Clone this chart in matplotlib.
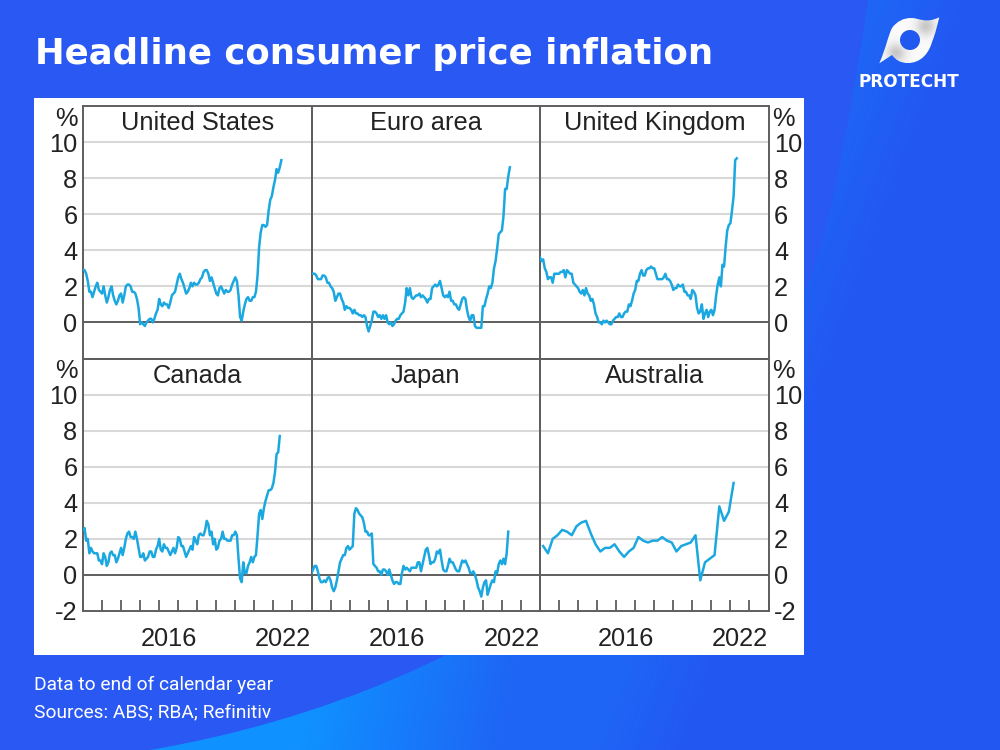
#!/usr/bin/env python3
import numpy as np
import matplotlib
matplotlib.use('Agg')
import matplotlib.pyplot as plt
from matplotlib.path import Path
from matplotlib.patches import PathPatch, Rectangle, Circle

# Monthly series from Jan 2012, one row per year
us = [2.9, 2.9, 2.7, 2.3, 1.7, 1.7, 1.4, 1.7, 2.0, 2.2, 1.8, 1.7,
      1.6, 2.0, 1.5, 1.1, 1.4, 1.8, 2.0, 1.5, 1.2, 1.0, 1.2, 1.5,
      1.6, 1.1, 1.5, 2.0, 2.1, 2.1, 2.0, 1.7, 1.7, 1.6, 1.3, 0.8,
      -0.1, 0.0, -0.1, -0.2, 0.0, 0.1, 0.2, 0.2, 0.0, 0.2, 0.5, 0.7,
      1.3, 1.0, 0.9, 1.1, 1.0, 1.0, 0.8, 1.1, 1.5, 1.6, 1.7, 2.1,
      2.5, 2.7, 2.4, 2.2, 1.9, 1.6, 1.7, 1.9, 2.2, 2.0, 2.2, 2.1,
      2.1, 2.2, 2.4, 2.5, 2.8, 2.9, 2.9, 2.7, 2.3, 2.5, 2.2, 1.9,
      1.6, 1.5, 1.9, 2.0, 1.8, 1.6, 1.8, 1.7, 1.7, 1.8, 2.1, 2.3,
      2.5, 2.3, 1.5, 0.3, 0.1, 0.6, 1.0, 1.3, 1.4, 1.2, 1.2, 1.4,
      1.4, 1.7, 2.6, 4.2, 5.0, 5.4, 5.4, 5.3, 5.4, 6.2, 6.8, 7.0,
      7.5, 7.9, 8.5, 8.3, 8.6, 9.0]
euro = [2.7, 2.7, 2.7, 2.6, 2.4, 2.4, 2.4, 2.6, 2.6, 2.5, 2.2, 2.2,
        2.0, 1.9, 1.7, 1.2, 1.4, 1.6, 1.6, 1.3, 1.1, 0.7, 0.9, 0.8,
        0.8, 0.7, 0.5, 0.7, 0.5, 0.5, 0.4, 0.4, 0.3, 0.4, 0.3, -0.2,
        -0.5, -0.2, 0.1, 0.6, 0.6, 0.5, 0.3, 0.4, 0.2, 0.4, 0.2, 0.4,
        0.0, -0.1, 0.0, -0.2, -0.1, 0.1, 0.2, 0.2, 0.4, 0.5, 0.6, 1.1,
        1.9, 1.5, 1.9, 1.4, 1.3, 1.4, 1.5, 1.5, 1.6, 1.4, 1.5, 1.4,
        1.3, 1.1, 1.3, 1.3, 1.9, 2.0, 2.1, 2.0, 2.1, 2.3, 1.9, 1.5,
        1.4, 1.5, 1.4, 1.7, 1.2, 1.2, 1.0, 1.0, 0.8, 0.7, 1.0, 1.3,
        1.4, 1.3, 0.7, 0.3, 0.1, 0.4, 0.4, -0.2, -0.3, -0.3, -0.3, -0.3,
        0.9, 0.9, 1.3, 1.6, 2.0, 1.9, 2.2, 3.0, 3.4, 4.1, 4.9, 5.0,
        5.1, 5.9, 7.4, 7.4, 8.1, 8.6]
uk = [3.6, 3.4, 3.5, 3.0, 2.8, 2.4, 2.5, 2.5, 2.2, 2.7, 2.7, 2.7,
      2.7, 2.8, 2.8, 2.9, 2.5, 2.9, 2.8, 2.7, 2.7, 2.2, 2.1, 2.0,
      1.9, 1.7, 1.6, 1.8, 1.5, 1.9, 1.6, 1.5, 1.2, 1.3, 1.0, 0.5,
      0.3, 0.0, 0.0, -0.1, 0.1, 0.0, 0.1, 0.0, -0.1, -0.1, 0.1, 0.2,
      0.3, 0.3, 0.5, 0.3, 0.3, 0.5, 0.6, 0.6, 1.0, 0.9, 1.2, 1.6,
      1.8, 2.3, 2.3, 2.7, 2.9, 2.6, 2.6, 2.9, 3.0, 3.0, 3.1, 3.0,
      3.0, 2.7, 2.4, 2.4, 2.4, 2.4, 2.5, 2.7, 2.4, 2.4, 2.3, 2.1,
      1.8, 1.9, 1.9, 2.1, 2.0, 2.0, 2.1, 1.7, 1.7, 1.5, 1.5, 1.3,
      1.8, 1.7, 1.5, 0.8, 0.5, 0.6, 1.0, 0.2, 0.5, 0.7, 0.3, 0.6,
      0.7, 0.4, 0.7, 1.5, 2.1, 2.5, 2.0, 3.2, 3.1, 4.2, 5.1, 5.4,
      5.5, 6.2, 7.0, 9.0, 9.1]
canada = [2.5, 2.6, 1.9, 2.0, 1.2, 1.5, 1.3, 1.2, 1.2, 1.2, 0.8, 0.8,
          0.6, 1.2, 1.0, 0.5, 0.7, 1.2, 1.3, 1.1, 1.1, 0.7, 0.9, 1.2,
          1.5, 1.1, 1.5, 2.0, 2.3, 2.4, 2.1, 2.1, 2.0, 2.4, 2.0, 1.5,
          1.0, 1.0, 1.2, 0.8, 0.9, 1.0, 1.3, 1.3, 1.0, 1.0, 1.4, 1.6,
          2.0, 1.4, 1.3, 1.7, 1.5, 1.5, 1.3, 1.1, 1.3, 1.5, 1.2, 1.5,
          2.1, 2.0, 1.6, 1.6, 1.3, 1.0, 1.2, 1.4, 1.6, 1.4, 2.1, 1.9,
          1.7, 2.2, 2.3, 2.2, 2.2, 2.5, 3.0, 2.8, 2.2, 2.4, 1.7, 2.0,
          1.4, 1.5, 1.9, 2.0, 2.4, 2.0, 2.0, 1.9, 1.9, 1.9, 2.2, 2.2,
          2.4, 2.2, 0.9, -0.2, -0.4, 0.7, 0.1, 0.1, 0.5, 0.7, 1.0, 0.7,
          1.0, 1.1, 2.2, 3.4, 3.6, 3.1, 3.7, 4.1, 4.4, 4.7, 4.7, 4.8,
          5.1, 5.7, 6.7, 6.8, 7.7]
japan = [0.1, 0.3, 0.5, 0.5, 0.2, -0.2, -0.4, -0.4, -0.3, -0.4, -0.2, -0.1,
         -0.3, -0.7, -0.9, -0.7, -0.3, 0.2, 0.7, 0.9, 1.1, 1.1, 1.5, 1.6,
         1.4, 1.5, 1.6, 3.4, 3.7, 3.6, 3.4, 3.3, 3.2, 2.9, 2.4, 2.4,
         2.2, 2.2, 2.3, 0.6, 0.5, 0.4, 0.2, 0.2, 0.0, 0.3, 0.3, 0.2,
         0.0, 0.3, 0.0, -0.3, -0.5, -0.4, -0.4, -0.5, -0.5, 0.1, 0.5, 0.3,
         0.4, 0.3, 0.2, 0.4, 0.4, 0.4, 0.4, 0.7, 0.7, 0.2, 0.6, 1.0,
         1.4, 1.5, 1.1, 0.6, 0.7, 0.7, 0.9, 1.3, 1.2, 1.4, 0.8, 0.3,
         0.2, 0.2, 0.5, 0.9, 0.7, 0.7, 0.5, 0.3, 0.2, 0.2, 0.5, 0.8,
         0.7, 0.8, 0.6, 0.4, 0.1, 0.1, 0.2, 0.0, -0.3, -0.7, -0.9, -1.2,
         -0.7, -0.4, -0.3, -1.1, -0.8, -0.5, -0.3, -0.4, 0.2, 0.1, 0.6, 0.8,
         0.6, 0.9, 0.6, 1.2, 2.4]
# Quarterly from Mar 2012
australia = [1.6, 1.2, 2.0, 2.2,
             2.5, 2.4, 2.2, 2.7,
             2.9, 3.0, 2.3, 1.7,
             1.3, 1.5, 1.5, 1.7,
             1.3, 1.0, 1.3, 1.5,
             2.1, 1.9, 1.8, 1.9,
             1.9, 2.1, 1.9, 1.8,
             1.3, 1.6, 1.7, 1.8,
             2.2, -0.3, 0.7, 0.9,
             1.1, 3.8, 3.0, 3.5,
             5.1]

titles = ['United States', 'Euro area', 'United Kingdom', 'Canada', 'Japan', 'Australia']
series = [us, euro, uk, canada, japan, australia]
labelled_years = [2016, 2022]
y_ticks = [0, 2, 4, 6, 8, 10]
start_year = 2012
end_year = 2024

W, H = 1000, 750
LINE = '#1ba8e0'
DARK = '#5e5e5e'
TEXT = '#222222'
FS = 18.3

plt.rcParams['font.family'] = ['Liberation Sans', 'DejaVu Sans']
plt.rcParams['axes.unicode_minus'] = False

fig = plt.figure(figsize=(W / 100, H / 100), dpi=100)

# full-figure layer in pixel coords for the slide background
bg = fig.add_axes([0, 0, 1, 1], zorder=0)
bg.set_xlim(0, W)
bg.set_ylim(H, 0)
bg.axis('off')
bg.add_patch(Rectangle((0, 0), W, H, fc='#2a58f2', ec='none'))

# swoosh: one glow along the bottom, a weaker one by the top edge
xx, yy = np.meshgrid(np.linspace(0, W, 500), np.linspace(0, H, 375))
t_low = np.clip((560 + 0.2 * (yy - 750) * -1 - xx) / 260, 0, 1)
t_low = np.where(yy < 600, 0, t_low)
t_top = np.clip((930 - 0.38 * (yy - 100) - xx) / 85, 0, 1)
t = np.maximum(t_low, 0.22 * t_top)[..., None]
grad = (1 - t) * np.array([0.137, 0.345, 0.95]) + t * np.array([0.06, 0.57, 1.0])
swoosh = Path([(150, 750), (500, 690), (770, 480), (830, 210),
               (845, 140), (858, 70), (868, 0), (1000, 0), (1000, 750), (150, 750)],
              [Path.MOVETO, Path.CURVE4, Path.CURVE4, Path.CURVE4,
               Path.CURVE4, Path.CURVE4, Path.CURVE4, Path.LINETO, Path.LINETO, Path.CLOSEPOLY])
im = bg.imshow(grad, extent=(0, W, H, 0), aspect='auto', zorder=1)
im.set_clip_path(PathPatch(swoosh, transform=bg.transData))
bg.set_xlim(0, W)
bg.set_ylim(H, 0)

bg.add_patch(Rectangle((34, 98), 770, 557, fc='white', ec='none', zorder=2))

bg.text(35, 54, 'Headline consumer price inflation', color='white', fontsize=25.6,
        fontweight='bold', family='DejaVu Sans', va='center', ha='left', zorder=3)
bg.text(34, 685, 'Data to end of calendar year', color='white', fontsize=13.8,
        family='Roboto', va='center', zorder=3)
bg.text(34, 712, 'Sources: ABS; RBA; Refinitiv', color='white', fontsize=13.8,
        family='Roboto', va='center', zorder=3)
bg.text(909, 82, 'PROTECHT', color='white', fontsize=12.2, fontweight='bold',
        family='DejaVu Sans', va='center', ha='center', zorder=3)

# logo, white with grey shading clipped to the outline
logo = Path([(879.3, 63.3), (886, 48), (888, 36), (892, 28), (897, 21), (904, 18), (911, 18),
             (920, 18), (925, 24), (939.3, 17.3),
             (937, 26), (936, 32), (932, 42), (929, 53), (921, 63), (908, 63),
             (900, 63), (896, 60), (892, 55), (879.3, 63.3)],
            [Path.MOVETO, Path.CURVE4, Path.CURVE4, Path.CURVE4, Path.CURVE4, Path.CURVE4, Path.CURVE4,
             Path.CURVE4, Path.CURVE4, Path.CURVE4,
             Path.CURVE4, Path.CURVE4, Path.CURVE4, Path.CURVE4, Path.CURVE4, Path.CURVE4,
             Path.CURVE4, Path.CURVE4, Path.CURVE4, Path.CLOSEPOLY])
lx, ly = np.meshgrid(np.linspace(875, 945, 140), np.linspace(12, 68, 112))
shade = 0.2 * np.exp(-((lx - 926) ** 2 + (ly - 26) ** 2) / 90) \
    + 0.2 * np.exp(-((lx - 896) ** 2 + (ly - 53) ** 2) / 90)
logo_im = bg.imshow(0.98 - shade, extent=(875, 945, 68, 12), cmap='gray', vmin=0, vmax=1,
                    aspect='auto', zorder=3)
logo_im.set_clip_path(PathPatch(logo, transform=bg.transData))
bg.set_xlim(0, W)
bg.set_ylim(H, 0)
bg.add_patch(Circle((910, 40), 10, fc='#2159f0', ec='none', zorder=4))

# panels: 228 px wide, 252 px tall
x_px = [83, 311.5, 540]
y_px = [106, 358.5]
panel_w, panel_h = 228.5, 252.5

for i, (title, values) in enumerate(zip(titles, series)):
    row, col = divmod(i, 3)
    ax = fig.add_axes([x_px[col] / W, 1 - (y_px[row] + panel_h) / H, panel_w / W, panel_h / H],
                      zorder=5)
    ax.patch.set_alpha(0)

    if title == 'Australia':
        x = start_year + 2 / 12 + np.arange(len(values)) / 4
    else:
        x = start_year + np.arange(len(values)) / 12

    ax.set_xlim(start_year, end_year)
    ax.set_ylim(-2, 12)

    for v in y_ticks[1:]:
        ax.axhline(v, color='#d8d8d8', lw=1.5, zorder=1)
    ax.axhline(0, color=DARK, lw=1.4, zorder=2)
    ax.plot(x, values, color=LINE, lw=1.8, zorder=3)

    for s in ax.spines.values():
        s.set_color(DARK)
        s.set_linewidth(1.4)

    ax.text(0.5, 0.932, title, transform=ax.transAxes, ha='center', va='center',
            fontsize=FS, color=TEXT)

    # y labels only on the outside columns
    ticks = y_ticks if row == 0 else [-2] + y_ticks
    ax.set_yticks(ticks)
    ax.tick_params(axis='y', length=0, labelsize=FS, labelcolor=TEXT, pad=4,
                   labelleft=col == 0, labelright=col == 2)
    if col == 0:
        ax.text(-0.022, 0.95, '%', transform=ax.transAxes, ha='right', va='center',
                fontsize=FS, color=TEXT)
    if col == 2:
        ax.text(1.018, 0.95, '%', transform=ax.transAxes, ha='left', va='center',
                fontsize=FS, color=TEXT)

    # yearly ticks on the bottom row, labels centred on the year
    if row == 1:
        ax.set_xticks(np.arange(start_year, end_year + 1))
        ax.set_xticklabels([])
        ax.set_xticks([yr + 0.5 for yr in labelled_years], minor=True)
        ax.set_xticklabels([str(yr) for yr in labelled_years], minor=True)
        ax.tick_params(axis='x', which='major', direction='in', length=8, width=1.3, color=DARK)
        ax.tick_params(axis='x', which='minor', length=0, labelsize=FS, labelcolor=TEXT, pad=11.5)
    else:
        ax.set_xticks([])

fig.savefig('out.png', dpi=100)
plt.close('all')
